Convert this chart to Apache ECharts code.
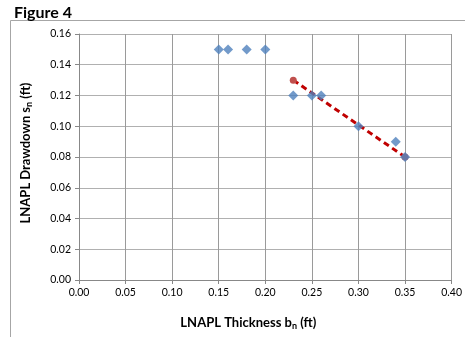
<!DOCTYPE html>
<html><head><meta charset="utf-8">
<script src="https://cdn.jsdelivr.net/npm/echarts@6/dist/echarts.min.js"></script>
<style>html,body{margin:0;padding:0;background:#fff}#c{width:465px;height:337px}</style>
</head><body><div id="c"></div>
<script>
var thicknessX = [0.15, 0.16, 0.18, 0.20, 0.23, 0.25, 0.26, 0.30, 0.34, 0.35];
var drawdownY = [0.15, 0.15, 0.15, 0.15, 0.12, 0.12, 0.12, 0.10, 0.09, 0.08];
var fitX = [0.23, 0.35];
var fitY = [0.13, 0.08];
var title = "Figure 4";
var xTitle = "LNAPL Thickness b";
var yTitle = "LNAPL Drawdown s";

var chart = echarts.init(document.getElementById('c'));
var font = 'Lato, "Open Sans", sans-serif';
chart.setOption({
  animation: false,
  textStyle: {fontFamily: font},
  title: {text: title, left: 9, top: 0, textStyle: {fontSize: 16, fontWeight: 'bold', color: '#000', fontFamily: font}},
  graphic: [
    {type: 'line', shape: {x1: 10.5, y1: 20.5, x2: 465, y2: 20.5}, style: {stroke: '#a6a6a6', lineWidth: 1}, silent: true},
    {type: 'line', shape: {x1: 10.5, y1: 20.5, x2: 10.5, y2: 337}, style: {stroke: '#a6a6a6', lineWidth: 1}, silent: true}
  ],
  grid: {left: 79, right: 13, top: 34, bottom: 57},
  xAxis: {
    type: 'value', min: 0, max: 0.4, interval: 0.05,
    name: '{t|' + xTitle + '}{s|n}{t| (ft)}', nameLocation: 'middle', nameGap: 35,
    nameTextStyle: {padding: [0, 34, 0, 0], rich: {t: {fontSize: 13, fontWeight: 'bold', color: '#000', fontFamily: font}, s: {fontSize: 9, fontWeight: 'bold', color: '#000', fontFamily: font, padding: [7,0,0,0]}}},
    axisLine: {show: true, lineStyle: {color: '#888', width: 1}},
    axisTick: {show: true, length: 4, lineStyle: {color: '#888'}},
    axisLabel: {formatter: function(v){return v.toFixed(2);}, fontSize: 10.5, color: '#000', margin: 7},
    splitLine: {show: true, lineStyle: {color: '#9a9a9a', width: 1}}
  },
  yAxis: {
    type: 'value', min: 0, max: 0.16, interval: 0.02,
    name: '{t|' + yTitle + '}{s|n}{t| (ft)}', nameLocation: 'middle', nameGap: 45, nameRotate: 90,
    nameTextStyle: {padding: [0, 0, 0, 8], rich: {t: {fontSize: 13, fontWeight: 'bold', color: '#000', fontFamily: font}, s: {fontSize: 9, fontWeight: 'bold', color: '#000', fontFamily: font, padding: [7,0,0,0]}}},
    axisLine: {show: true, lineStyle: {color: '#888', width: 1}},
    axisTick: {show: true, length: 4, lineStyle: {color: '#888'}},
    axisLabel: {formatter: function(v){return v.toFixed(2);}, fontSize: 10.5, color: '#000', margin: 8},
    splitLine: {show: true, lineStyle: {color: '#b0b0b0', width: 1}}
  },
  series: [
    {
      type: 'line', data: fitX.map(function(x,i){return [x, fitY[i]];}),
      symbol: 'circle', symbolSize: 7, showSymbol: true,
      itemStyle: {color: '#c0504d'},
      lineStyle: {color: '#c00000', width: 3, type: [6, 4]},
      z: 2
    },
    {
      type: 'scatter', data: thicknessX.map(function(x,i){return [x, drawdownY[i]];}),
      symbol: 'diamond', symbolSize: 10,
      itemStyle: {color: '#4f81bd'},
      z: 3
    }
  ]
});
</script></body></html>
